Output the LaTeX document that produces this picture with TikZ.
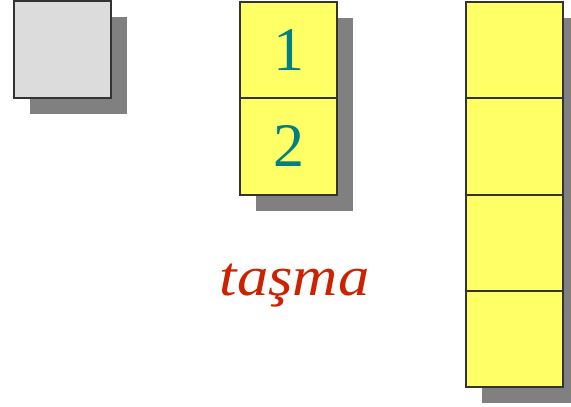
\documentclass[tikz,border=0pt]{standalone}
\usepackage{fontspec}
\setmainfont{Liberation Serif}
\usetikzlibrary{positioning,shadows}
\definecolor{cellyellow}{HTML}{FFFF66}
\definecolor{cellgray}{HTML}{DCDCDC}
\definecolor{shadowgray}{HTML}{808080}
\definecolor{digitteal}{HTML}{008080}
\definecolor{overflowred}{HTML}{CC2200}
\tikzset{
  cell/.style={draw=black!80, line width=2pt, fill=cellyellow,
    minimum width=97pt, minimum height=96.25pt, inner sep=0pt, outer sep=0pt,
    font=\fontsize{62}{62}\selectfont, text=digitteal,
    drop shadow={shadow xshift=16pt, shadow yshift=-16pt, fill=shadowgray, opacity=1}},
}
\begin{document}
\begin{tikzpicture}[x=1pt,y=-1pt]
  \useasboundingbox (0,0) rectangle (571,407);
  % tek kutu
  \node[cell, fill=cellgray, minimum height=97.5pt, anchor=north west] (single) at (14,0.5) {};
  % iki kutu
  \node[cell, anchor=north west] (midA) at (240,2) {\raisebox{-3pt}{1}};
  \node[cell, below=0pt of midA] (midB) {\raisebox{-3pt}{2}};
  % dort kutu
  \node[cell, anchor=north west] (rightA) at (466,2) {};
  \node[cell, below=0pt of rightA] (rightB) {};
  \node[cell, below=0pt of rightB] (rightC) {};
  \node[cell, below=0pt of rightC] (rightD) {};
  \node[anchor=base, xscale=1.12, text=overflowred, font=\itshape\fontsize{56}{56}\selectfont] (overflow) at (294.5,295) {taşma};
\end{tikzpicture}
\end{document}
